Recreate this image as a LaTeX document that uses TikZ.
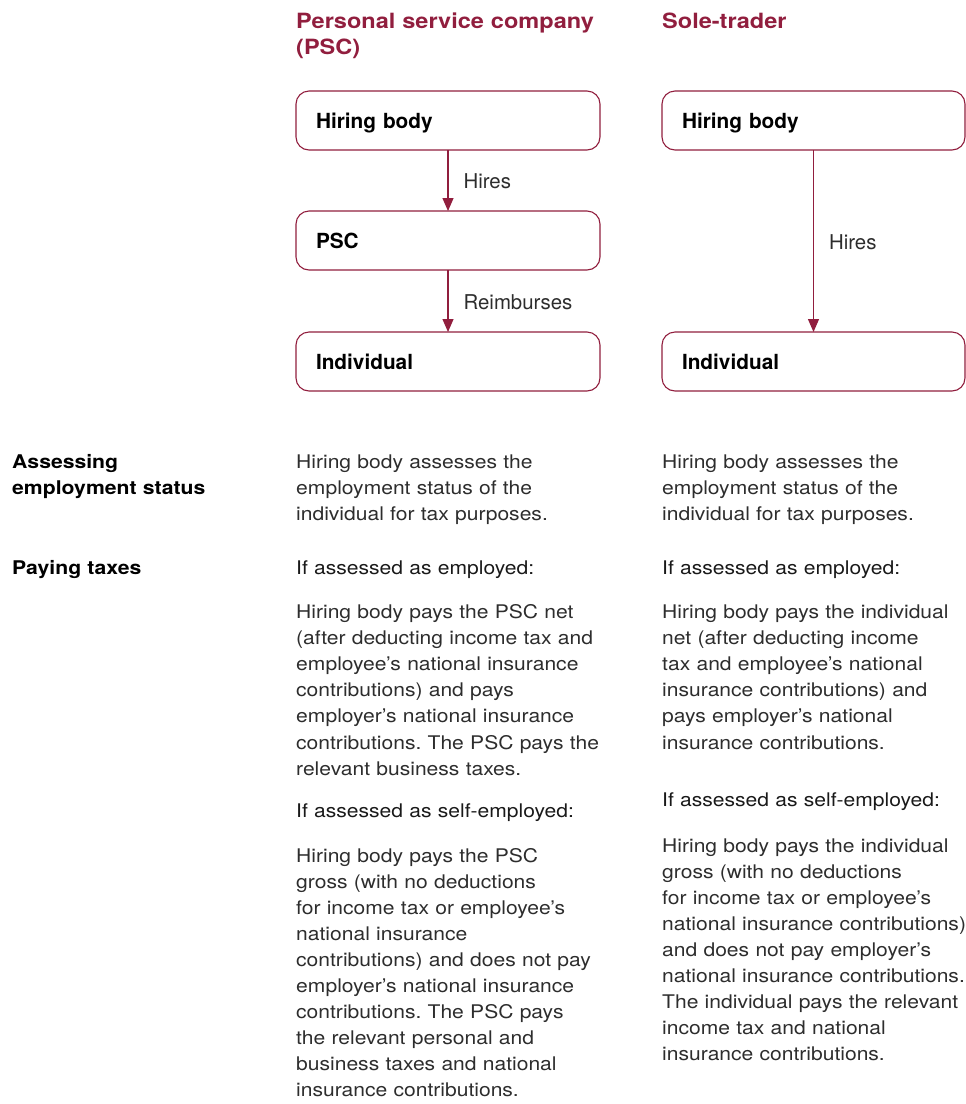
\documentclass[tikz,border=0pt]{standalone}
\usepackage{fontspec}
\setmainfont{TeX Gyre Heros}[FakeStretch=1.12]
\newfontfamily\plainheros{TeX Gyre Heros}
\usetikzlibrary{arrows.meta}
\definecolor{brand}{RGB}{145,30,62}
\definecolor{bodytxt}{RGB}{45,45,45}
\frenchspacing
\begin{document}
\begin{tikzpicture}[x=1pt,y=-1pt,
  box/.style={draw=brand, line width=1.1pt, rounded corners=13pt, anchor=north west,
    outer sep=0pt, inner xsep=20pt, inner ysep=0pt, minimum height=59pt,
    text height=15.5pt, text depth=0pt, align=left,
    font=\plainheros\bfseries\fontsize{20.8}{24}\selectfont},
  arr/.style={draw=brand, line width=1.2pt, -{Triangle[length=13pt,width=11pt]}},
  lbl/.style={anchor=base west, inner sep=0pt, xshift=15pt, yshift=-8pt,
    text=bodytxt, font=\plainheros\fontsize{20.4}{24}\selectfont},
  head/.style={anchor=base west, inner sep=0pt, text width=320pt, align=left,
    text=brand, font=\bfseries\fontsize{21}{26}\selectfont},
  side/.style={anchor=base west, inner sep=0pt, text width=250pt, align=left,
    text=black, font=\bfseries\fontsize{18.9}{26.1}\selectfont},
  body/.style={anchor=base west, inner sep=0pt, text width=320pt, align=left,
    text=bodytxt, font=\fontsize{18.8}{26.1}\selectfont\frenchspacing},
  cond/.style={body, text=black!90}
]
\useasboundingbox (0,0) rectangle (966,1104);

% headers
\node[head] (h1) at (296,28.3) {Personal service company\\(PSC)};
\node[head] (h2) at (662,28.3) {Sole-trader};

% PSC column boxes
\node[box, text width=264pt] (hb1) at (296,91) {Hiring body};
\node[box, text width=264pt] (psc) at (296,211) {PSC};
\node[box, text width=264pt] (ind1) at (296,332) {Individual};
\draw[arr] (hb1) -- node[lbl] {Hires} (psc);
\draw[arr] (psc) -- node[lbl] {Reimburses} (ind1);

% Sole-trader column boxes
\node[box, text width=263pt] (hb2) at (662,91) {Hiring body};
\node[box, text width=263pt] (ind2) at (662,332) {Individual};
\draw[arr] (hb2) -- node[lbl] {Hires} (ind2);

% row labels
\node[side] (r1) at (12,468) {Assessing\\employment status};
\node[side] (r2) at (12,574) {Paying taxes};

% PSC column text
\node[body] (a2) at (296,468.5) {Hiring body assesses the\\employment status of the\\individual for tax purposes.};
\node[cond] (e2) at (296,574) {If assessed as employed:};
\node[body] (e2b) at (296,618.5) {Hiring body pays the PSC net\\(after deducting income tax and\\employee’s national insurance\\contributions) and pays\\employer’s national insurance\\contributions. The PSC pays the\\relevant business taxes.};
\node[cond] (s2) at (296,817.5) {If assessed as self-employed:};
\node[body] (s2b) at (296,862) {Hiring body pays the PSC\\gross (with no deductions\\for income tax or employee’s\\national insurance\\contributions) and does not pay\\employer’s national insurance\\contributions. The PSC pays\\the relevant personal and\\business taxes and national\\insurance contributions.};

% Sole-trader column text
\node[body] (a3) at (662,468.5) {Hiring body assesses the\\employment status of the\\individual for tax purposes.};
\node[cond] (e3) at (662,574) {If assessed as employed:};
\node[body] (e3b) at (662,618.5) {Hiring body pays the individual\\net (after deducting income\\tax and employee’s national\\insurance contributions) and\\pays employer’s national\\insurance contributions.};
\node[cond] (s3) at (662,806.5) {If assessed as self-employed:};
\node[body] (s3b) at (662,852) {Hiring body pays the individual\\gross (with no deductions\\for income tax or employee’s\\national insurance contributions)\\and does not pay employer’s\\national insurance contributions.\\The individual pays the relevant\\income tax and national\\insurance contributions.};
\end{tikzpicture}
\end{document}
